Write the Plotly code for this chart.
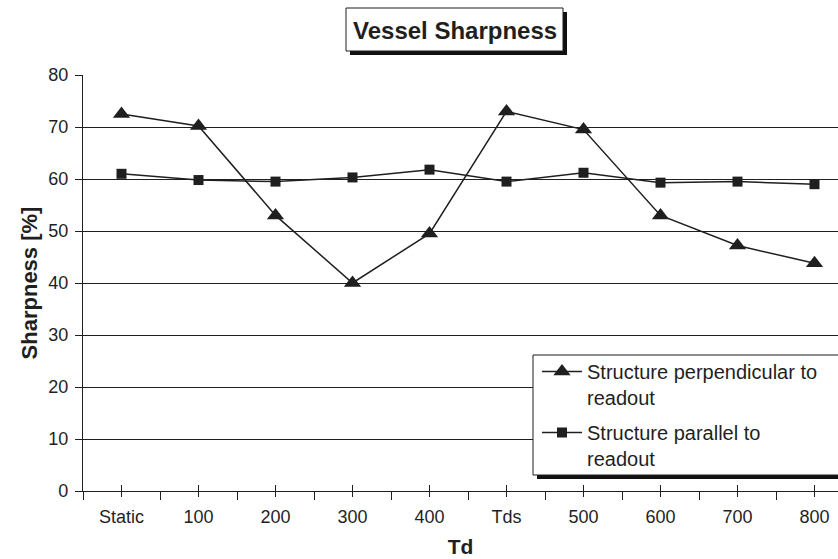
import plotly.graph_objects as go

categories = ["Static", "100", "200", "300", "400", "Tds", "500", "600", "700", "800"]
perpendicular = [72.5, 70.2, 53.0, 40.0, 49.5, 73.0, 69.5, 53.0, 47.2, 43.8]
parallel = [61.0, 59.8, 59.5, 60.3, 61.8, 59.5, 61.2, 59.3, 59.5, 59.0]
name_perp = "Structure perpendicular to<br>readout"
name_par = "Structure parallel to<br>readout"

W, H = 838, 559
L, R, T, B = 83, 0, 75, 68
PW, PH = W - L - R, H - T - B
FONT = "Liberation Sans, Arial, sans-serif"
INK = "#1f1f1f"

def px(x):
    return (x - L) / PW

def py(y):
    return (H - B - y) / PH

xs = list(range(len(categories)))

fig = go.Figure()
fig.add_trace(go.Scatter(
    x=xs, y=perpendicular, name=name_perp, mode="lines+markers",
    line=dict(color=INK, width=1.5),
    marker=dict(symbol="triangle-up", size=15, color=INK),
    legendgroup="a",
))
fig.add_trace(go.Scatter(
    x=xs, y=parallel, name=name_par, mode="lines+markers",
    line=dict(color=INK, width=1.5),
    marker=dict(symbol="square", size=10, color=INK),
    legendgroup="b",
))
fig.add_trace(go.Scatter(x=[], y=[], xaxis="x2", showlegend=False, hoverinfo="skip"))

span = PW / 77.0
xrange = [-0.5, -0.5 + span]

shapes = [
    dict(type="rect", xref="paper", yref="paper", x0=px(350), x1=px(567), y0=py(55), y1=py(12),
         fillcolor="#111", line=dict(width=0), layer="above"),
    dict(type="rect", xref="paper", yref="paper", x0=px(346), x1=px(563), y0=py(51), y1=py(8),
         fillcolor="white", line=dict(color=INK, width=1), layer="above"),
    dict(type="rect", xref="paper", yref="paper", x0=px(537), x1=px(880), y0=py(479), y1=py(360),
         fillcolor="#111", line=dict(width=0), layer="above"),
    dict(type="rect", xref="paper", yref="paper", x0=px(533), x1=px(876), y0=py(475), y1=py(355),
         fillcolor="white", line=dict(color=INK, width=1), layer="above"),
]

fig.update_layout(
    width=W, height=H,
    margin=dict(l=L, r=R, t=T, b=B, pad=0),
    paper_bgcolor="white", plot_bgcolor="white",
    font=dict(family=FONT, color=INK, size=18),
    showlegend=True,
    legend=dict(
        x=px(537), y=py(352), xanchor="left", yanchor="top",
        bgcolor="rgba(0,0,0,0)", borderwidth=0,
        font=dict(family=FONT, size=20, color=INK),
        valign="top", tracegroupgap=6, itemwidth=40,
    ),
    shapes=shapes,
    annotations=[dict(
        text="<b>Vessel Sharpness</b>", xref="paper", yref="paper",
        x=px(455), y=py(30), xanchor="center", yanchor="middle",
        showarrow=False, font=dict(family=FONT, size=24, color=INK),
    )],
    xaxis=dict(
        range=xrange, tickmode="array", tickvals=xs, ticktext=categories,
        ticks="outside", ticklen=5, tickwidth=1.2, tickcolor=INK,
        showline=True, linecolor=INK, linewidth=1.3,
        showgrid=False, zeroline=False, ticklabelstandoff=4,
        minor=dict(tick0=-0.5, dtick=1, ticks="outside", ticklen=8, tickwidth=1.2, tickcolor=INK, showgrid=False),
        tickfont=dict(size=18),
        title=dict(text="<b>Td</b>", font=dict(size=21), standoff=13),
    ),
    xaxis2=dict(
        range=xrange, overlaying="x", anchor="y", side="bottom",
        tickmode="array", tickvals=xs, ticks="inside", ticklen=6, tickwidth=1.2, tickcolor=INK,
        showticklabels=False, showline=False, showgrid=False, zeroline=False,
    ),
    yaxis=dict(
        range=[0, 80], tickmode="linear", tick0=0, dtick=10,
        ticks="outside", ticklen=7, tickwidth=1.2, tickcolor=INK,
        showline=True, linecolor=INK, linewidth=1.3,
        showgrid=True, gridcolor=INK, gridwidth=1.3, zeroline=False,
        ticklabelstandoff=3,
        tickfont=dict(size=18),
        title=dict(text="<b>Sharpness [%]</b>", font=dict(size=22), standoff=4),
    ),
)

fig.write_html("out.html")
